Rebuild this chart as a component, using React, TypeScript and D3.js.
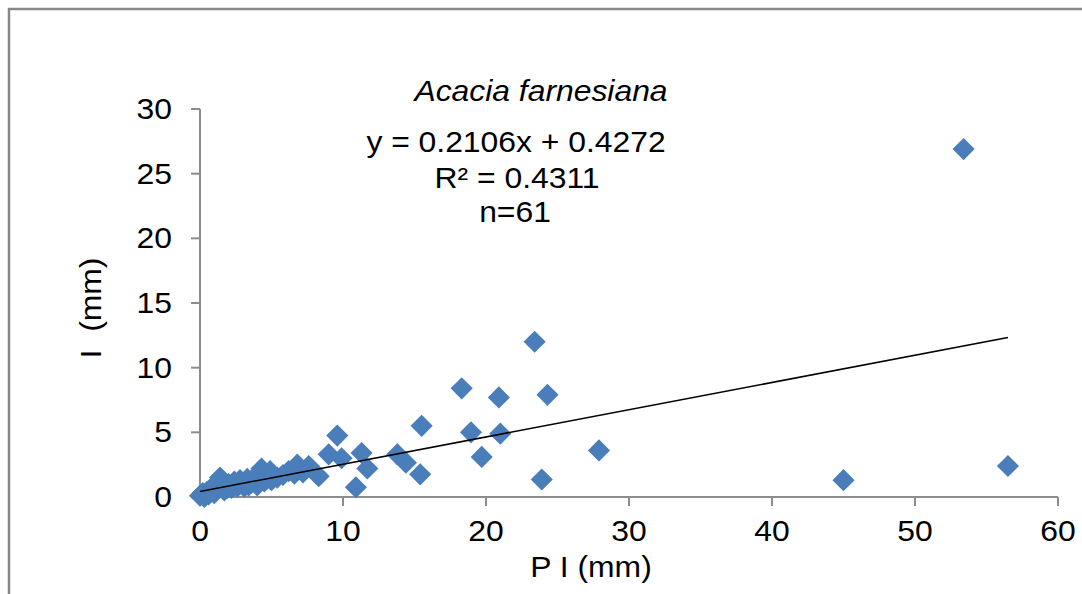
import React from "react";
import * as d3 from "d3";

const xValues: number[] = [
  53.4, 56.5, 45.0, 27.9, 23.4, 24.3, 23.9, 20.9, 21.0, 18.3,
  18.95, 19.7, 15.5, 15.4, 13.8, 14.4, 11.7, 11.3, 10.9, 9.6,
  9.0, 9.9, 6.8, 7.6, 6.6, 8.3, 5.1, 4.3, 4.9, 3.3,
  2.8, 3.6, 1.4, 1.9, 0.9, 0.0, 0.5, 0.2, 0.3, 0.6,
  0.8, 1.0, 1.2, 1.5, 1.7, 2.0, 2.2, 2.4, 2.6, 3.0,
  3.1, 3.4, 3.8, 4.0, 4.2, 4.5, 5.0, 5.4, 5.8, 6.2,
  7.2,
];
const yValues: number[] = [
  26.9, 2.4, 1.3, 3.6, 12.0, 7.9, 1.35, 7.7, 4.9, 8.4,
  5.0, 3.1, 5.5, 1.75, 3.3, 2.65, 2.2, 3.4, 0.75, 4.75,
  3.3, 3.0, 2.5, 2.4, 1.8, 1.6, 1.6, 2.2, 2.0, 1.4,
  1.3, 1.1, 1.5, 0.7, 0.8, 0.1, 0.4, 0.3, 0.0, 0.2,
  0.5, 0.3, 0.9, 1.0, 0.5, 1.0, 0.7, 1.2, 0.8, 1.0,
  0.8, 0.9, 1.5, 0.9, 1.6, 1.2, 1.3, 1.5, 1.7, 2.0,
  1.9,
];
const xTicks: number[] = [0, 10, 20, 30, 40, 50, 60];
const yTicks: number[] = [0, 5, 10, 15, 20, 25, 30];
const slope = 0.2106;
const intercept = 0.4272;
const titleText = "Acacia farnesiana";
const eqText = "y = 0.2106x + 0.4272";
const r2Text = "R² = 0.4311";
const nText = "n=61";
const xTitle = "P I (mm)";
const yTitle = "I  (mm)";

const FS = 29.5;
const SX = 1.08;

function T(props: {
  x: number;
  y: number;
  anchor: "start" | "middle" | "end";
  italic?: boolean;
  rotate?: number;
  children: React.ReactNode;
}) {
  const rot = props.rotate ? ` rotate(${props.rotate})` : "";
  return (
    <text
      transform={`translate(${props.x},${props.y})${rot} scale(${SX},1)`}
      textAnchor={props.anchor}
      fontSize={FS}
      fontStyle={props.italic ? "italic" : "normal"}
      fill="#000"
      style={{ whiteSpace: "pre" }}
    >
      {props.children}
    </text>
  );
}

export default function App() {
  const x = d3.scaleLinear().domain([0, 60]).range([200, 1058]);
  const y = d3.scaleLinear().domain([0, 30]).range([497, 109]);
  const pts = xValues.map((v, i) => [v, yValues[i]] as [number, number]);
  const xMax = d3.max(xValues) as number;
  const line = d3
    .line<number>()
    .x((d) => x(d))
    .y((d) => y(slope * d + intercept));
  const diamond = d3.symbol().type(d3.symbolSquare).size(245)();
  const font = "'Liberation Sans', Arial, sans-serif";
  const axisColor = "#8c8c8c";
  return (
    <svg
      width={1082}
      height={594}
      style={{ position: "absolute", left: 0, top: 0, background: "#fff" }}
      fontFamily={font}
    >
      <rect x={0} y={0} width={1082} height={594} fill="#fff" />
      <line x1={8} y1={9} x2={1082} y2={9} stroke="#878787" strokeWidth={2.5} />
      <line x1={9} y1={8} x2={9} y2={594} stroke="#878787" strokeWidth={2.5} />
      {/* axes */}
      <line x1={x(0)} y1={y(0)} x2={x(60)} y2={y(0)} stroke={axisColor} strokeWidth={2} />
      <line x1={x(0)} y1={y(0)} x2={x(0)} y2={y(30)} stroke={axisColor} strokeWidth={2} />
      {xTicks.map((t) => (
        <g key={"xt" + t}>
          <line x1={x(t)} x2={x(t)} y1={y(0)} y2={y(0) + 9} stroke={axisColor} strokeWidth={2} />
          <T x={x(t)} y={541} anchor="middle">
            {t}
          </T>
        </g>
      ))}
      {yTicks.map((t) => (
        <g key={"yt" + t}>
          <line x1={x(0) - 9} x2={x(0)} y1={y(t)} y2={y(t)} stroke={axisColor} strokeWidth={2} />
          <T x={172} y={y(t) + 10} anchor="end">
            {t}
          </T>
        </g>
      ))}
      {/* points */}
      {pts.map((p, i) => (
        <path
          key={"p" + i}
          d={diamond as string}
          transform={`translate(${x(p[0])},${y(p[1])}) rotate(45)`}
          fill="#4A7EBB"
        />
      ))}
      {/* trend line */}
      <path d={line([0, xMax]) as string} fill="none" stroke="#000" strokeWidth={1.6} />
      {/* annotations */}
      <T x={541} y={101} anchor="middle" italic>
        {titleText}
      </T>
      <T x={516} y={152} anchor="middle">
        {eqText}
      </T>
      <T x={517} y={188} anchor="middle">
        {r2Text}
      </T>
      <T x={515} y={222} anchor="middle">
        {nText}
      </T>
      <T x={591} y={577} anchor="middle">
        {xTitle}
      </T>
      <T x={101} y={308} anchor="middle" rotate={-90}>
        {yTitle}
      </T>
    </svg>
  );
}
